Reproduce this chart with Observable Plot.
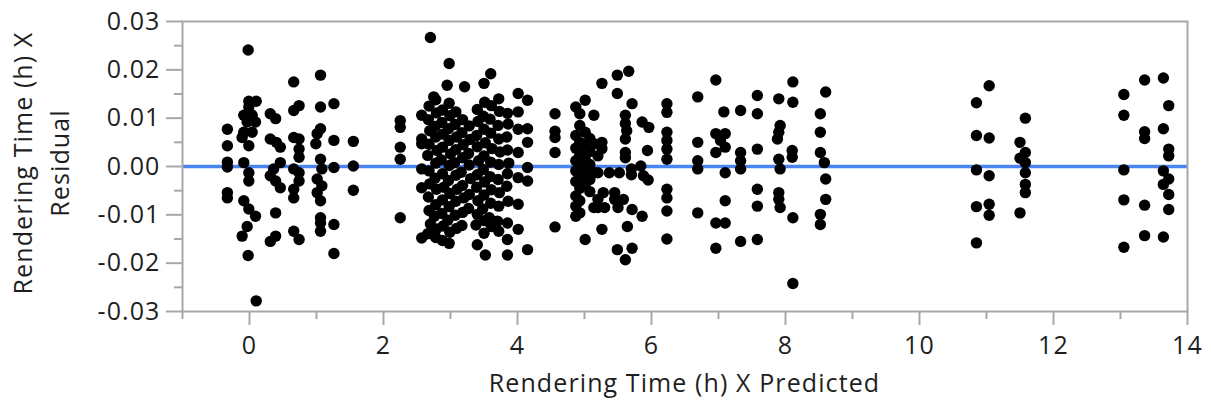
<!DOCTYPE html>
<html>
<head>
<meta charset="utf-8">
<script src="https://cdn.jsdelivr.net/npm/d3@7"></script>
<script src="https://cdn.jsdelivr.net/npm/@observablehq/plot@0.6"></script>
<style>
  body { margin: 0; background: #fff; }
  svg { display: block; }
  svg text { letter-spacing: 1.1px; }
</style>
</head>
<body>
<div id="chart"></div>
<script>
// Residual by predicted value, [predicted, residual] pairs grouped by range of the prediction.
const predictedUnder2 = [
  [-0.33, 0.0077], [-0.33, 0.0043], [-0.33, 0.0009], [-0.33, -0.0001], [-0.33, -0.0054], [-0.33, -0.0065],
  [-0.02, 0.0241], [-0.01, 0.0135], [0.10, 0.0135], [-0.01, 0.0123], [-0.085, 0.0106], [0.04, 0.0106],
  [-0.035, 0.0092], [0.09, 0.0092], [-0.085, 0.0071], [0.04, 0.0071], [-0.11, 0.006], [-0.01, 0.0043],
  [-0.085, 0.0008], [-0.01, -0.0013], [-0.01, -0.003], [-0.085, -0.0071], [-0.01, -0.0088], [0.09, -0.0103],
  [-0.035, -0.0124], [-0.11, -0.0144], [-0.02, -0.0184], [0.10, -0.0278],
  [0.31, 0.0109], [0.39, 0.0099], [0.31, 0.0057], [0.40, 0.005], [0.46, 0.004], [0.46, 0.0008],
  [0.36, -0.0005], [0.31, -0.0019], [0.39, -0.003], [0.46, -0.0044], [0.39, -0.0096], [0.39, -0.0144], [0.31, -0.0155],
  [0.66, 0.0175], [0.74, 0.0126], [0.66, 0.0116], [0.66, 0.006], [0.74, 0.0057], [0.74, 0.0036], [0.74, 0.0019],
  [0.66, -0.0005], [0.74, -0.0013], [0.74, -0.003], [0.66, -0.0047], [0.66, -0.0065], [0.66, -0.0134], [0.74, -0.0151],
  [1.06, 0.0189], [1.06, 0.0123], [1.06, 0.0078], [1.01, 0.0068], [0.99, 0.0047], [1.06, 0.0015], [1.08, -0.0005],
  [1.01, -0.0026], [1.08, -0.004], [1.01, -0.0054], [1.06, -0.0071], [1.06, -0.0106], [1.06, -0.0117], [1.06, -0.0134],
  [1.26, 0.013], [1.26, 0.0054], [1.26, -0.0002], [1.26, -0.012], [1.26, -0.018],
  [1.55, 0.0052], [1.55, 0.0001], [1.55, -0.0049]
];

const predicted2to4 = [
  [2.25, 0.0095], [2.25, 0.0081], [2.25, 0.004], [2.25, 0.0015], [2.25, -0.0106],
  [2.57, 0.0106], [2.57, 0.0057], [2.57, 0.0047], [2.57, -0.0005], [2.57, -0.0044], [2.57, -0.0148],
  [2.70, 0.0267], [2.98, 0.0213], [2.95, 0.0168], [3.21, 0.0165], [2.75, 0.0144],
  [2.68, 0.0125], [2.67, 0.0097], [2.69, 0.0074], [2.68, 0.0046], [2.66, 0.0023], [2.68, -0.0009],
  [2.69, -0.0036], [2.67, -0.0063], [2.68, -0.0091], [2.70, -0.0119], [2.66, -0.0139],
  [2.78, 0.0138], [2.79, 0.0111], [2.77, 0.0083], [2.78, 0.0061], [2.80, 0.0033], [2.78, 0.0007],
  [2.77, -0.0024], [2.79, -0.0047], [2.78, -0.0079], [2.76, -0.0103], [2.79, -0.0129], [2.78, -0.0147],
  [2.88, 0.0117], [2.87, 0.0091], [2.89, 0.0067], [2.88, 0.004], [2.86, 0.0014], [2.88, -0.0015],
  [2.90, -0.0043], [2.88, -0.0069], [2.87, -0.0097], [2.89, -0.0123], [2.88, -0.0153],
  [2.98, 0.0131], [2.99, 0.0105], [2.97, 0.0078], [2.98, 0.0054], [3.00, 0.0026], [2.98, 0.0002],
  [2.97, -0.0029], [2.99, -0.0056], [2.98, -0.0083], [2.96, -0.0111], [2.99, -0.0136], [2.98, -0.0159],
  [3.08, 0.0113], [3.07, 0.0087], [3.09, 0.0061], [3.08, 0.0035], [3.06, 0.0008], [3.08, -0.0018],
  [3.10, -0.0047], [3.08, -0.0072], [3.07, -0.0101], [3.09, -0.0128],
  [3.18, 0.0097], [3.17, 0.007], [3.19, 0.0045], [3.18, 0.0018], [3.16, -0.0012], [3.18, -0.0039],
  [3.20, -0.0065], [3.18, -0.0095], [3.17, -0.0122],
  [3.28, 0.0084], [3.29, 0.0056], [3.27, 0.0027], [3.28, 0.0003], [3.30, -0.0025], [3.28, -0.0058], [3.27, -0.0087],
  [3.40, 0.0118], [3.41, 0.0093], [3.39, 0.0064], [3.40, 0.0041], [3.42, 0.0012], [3.40, -0.0017],
  [3.39, -0.0043], [3.41, -0.0071], [3.40, -0.0099], [3.38, -0.0121], [3.40, -0.0162],
  [3.50, 0.0172], [3.51, 0.0133], [3.49, 0.0104], [3.50, 0.0077], [3.52, 0.0049], [3.50, 0.0022],
  [3.49, -0.0006], [3.51, -0.0032], [3.50, -0.0059], [3.48, -0.0088], [3.51, -0.0112], [3.50, -0.0138], [3.52, -0.0183],
  [3.60, 0.0192], [3.61, 0.0126], [3.59, 0.0098], [3.60, 0.0069], [3.62, 0.0037], [3.60, 0.0009],
  [3.59, -0.0021], [3.61, -0.0048], [3.60, -0.0076], [3.58, -0.0106], [3.61, -0.0124],
  [3.72, 0.014], [3.73, 0.0114], [3.71, 0.0085], [3.72, 0.0057], [3.74, 0.003], [3.72, 0.0004],
  [3.71, -0.0027], [3.73, -0.0054], [3.72, -0.0082], [3.70, -0.0113], [3.72, -0.0134],
  [3.85, 0.011], [3.86, 0.0088], [3.84, 0.0061], [3.85, 0.0034], [3.87, 0.0007], [3.85, -0.0015],
  [3.84, -0.0041], [3.86, -0.0072], [3.85, -0.0117], [3.85, -0.0151], [3.85, -0.0183],
  [4.01, 0.0151], [4.01, 0.0113], [4.01, 0.0077], [4.01, 0.0029], [4.01, -0.0023], [4.01, -0.0078], [4.01, -0.013],
  [4.15, 0.0137], [4.15, 0.0078], [4.15, 0.005], [4.15, -0.0002], [4.15, -0.003], [4.15, -0.0172],
  [4.56, 0.0109], [4.56, 0.0073], [4.56, 0.006], [4.56, 0.0029], [4.56, -0.0125]
];

const predicted4to6 = [
  [4.87, 0.0123], [4.87, 0.0064], [4.87, 0.0038], [4.87, 0.0012], [4.87, -0.0009], [4.87, -0.0031],
  [4.87, -0.0061], [4.87, -0.0082], [4.87, -0.0103],
  [4.93, 0.0109], [4.93, 0.0085], [4.93, 0.005], [4.93, 0.0025], [4.93, -0.0002], [4.93, -0.0021],
  [4.93, -0.0045], [4.93, -0.0071], [4.93, -0.0096],
  [5.01, 0.0137], [5.01, 0.0071], [5.01, 0.0044], [5.01, 0.0016], [5.01, -0.0012], [5.01, -0.0038], [5.01, -0.0151],
  [5.08, 0.0058], [5.08, 0.0031], [5.08, 0.0004], [5.08, -0.0027], [5.08, -0.0052],
  [5.14, 0.0106], [5.14, 0.0047], [5.14, -0.0013], [5.14, -0.0085],
  [5.20, 0.0022], [5.20, -0.0013], [5.20, -0.0068],
  [5.26, 0.0172], [5.49, 0.0189], [5.66, 0.0197], [5.49, 0.0151], [5.71, 0.013], [5.61, 0.0106],
  [5.61, 0.0089], [5.63, 0.0074], [5.61, 0.0057], [5.61, 0.0029], [5.61, 0.0018], [5.86, 0.0092],
  [5.96, 0.0081], [5.94, 0.0033], [5.26, 0.005], [5.26, 0.0037], [5.37, -0.0013], [5.52, -0.0013],
  [5.70, -0.0005], [5.84, 0.0001], [5.70, -0.0017], [5.88, -0.0019], [5.95, -0.0028], [5.28, -0.0054],
  [5.45, -0.0054], [5.20, -0.0085], [5.30, -0.0085], [5.45, -0.0068], [5.50, -0.0085], [5.58, -0.0068],
  [5.71, -0.0089], [5.86, -0.0103], [5.64, -0.0124], [5.26, -0.013], [5.49, -0.0172], [5.71, -0.0169], [5.61, -0.0193]
];

const predicted6to9 = [
  [6.23, 0.013], [6.23, 0.0112], [6.23, 0.0071], [6.23, 0.0054], [6.23, 0.0036], [6.23, 0.0015],
  [6.23, -0.0047], [6.23, -0.0065], [6.23, -0.0092], [6.23, -0.015],
  [6.69, 0.0144], [6.69, 0.005], [6.69, 0.0012], [6.69, -0.0005], [6.69, -0.0096],
  [6.96, 0.0179], [6.96, 0.0068], [6.96, 0.0029], [6.96, -0.0117], [6.96, -0.0169],
  [7.03, 0.0054], [7.10, 0.0068], [7.10, 0.004], [7.08, 0.0113], [7.10, -0.0013], [7.10, -0.0071], [7.10, -0.0117],
  [7.33, 0.0116], [7.33, 0.0029], [7.33, 0.0012], [7.33, -0.0005], [7.33, -0.0155],
  [7.58, 0.0147], [7.58, 0.0109], [7.58, 0.0036], [7.58, -0.0047], [7.58, -0.0082], [7.58, -0.0151],
  [7.90, 0.014], [7.92, 0.0085], [7.90, 0.0071], [7.88, 0.0057], [7.90, 0.0015], [7.92, -0.0005],
  [7.90, -0.0054], [7.90, -0.0068], [7.92, -0.0085],
  [8.11, 0.0175], [8.11, 0.0133], [8.10, 0.0033], [8.10, 0.0019], [8.11, -0.0106], [8.11, -0.0242],
  [8.52, 0.0109], [8.52, 0.0071], [8.52, 0.0029], [8.52, -0.0099], [8.52, -0.012],
  [8.60, 0.0154], [8.58, 0.0008], [8.60, -0.0026], [8.60, -0.0068]
];

const predictedOver10 = [
  [10.85, 0.0132], [10.85, 0.0064], [10.85, -0.0007], [10.85, -0.0083], [10.85, -0.0158],
  [11.04, 0.0167], [11.04, 0.0059], [11.04, -0.0019], [11.04, -0.0078], [11.04, -0.0101],
  [11.50, 0.005], [11.50, 0.0017], [11.50, -0.0096],
  [11.58, 0.01], [11.58, 0.0029], [11.58, 0.0008], [11.58, -0.0013], [11.58, -0.0037], [11.58, -0.0054],
  [13.05, 0.0149], [13.05, 0.0106], [13.05, -0.0007], [13.05, -0.0069], [13.05, -0.0167],
  [13.36, 0.0179], [13.36, 0.0072], [13.36, 0.0058], [13.36, -0.008], [13.36, -0.0143],
  [13.64, 0.0183], [13.64, 0.0078], [13.64, -0.0009], [13.64, -0.0037], [13.64, -0.0146],
  [13.72, 0.0126], [13.72, 0.0036], [13.72, 0.0022], [13.72, -0.0026], [13.72, -0.0058], [13.72, -0.0089]
];

// Axis ticks
const xTicks = [0, 2, 4, 6, 8, 10, 12, 14];
const xMinorTicks = [-1, 1, 3, 5, 7, 9, 11, 13];
const yTicks = [-0.03, -0.02, -0.01, 0, 0.01, 0.02, 0.03];
const yMinorTicks = [-0.025, -0.015, -0.005, 0.005, 0.015, 0.025];

const xTitle = "Rendering Time (h) X Predicted";
const yTitle = ["Rendering Time (h) X", "Residual"];

const points = [...predictedUnder2, ...predicted2to4, ...predicted4to6, ...predicted6to9, ...predictedOver10]
  .map(([predicted, residual]) => ({predicted, residual}));

const font = "'Open Sans', 'Noto Sans', sans-serif";
const fontSize = 25;
const axisGray = "#a8a8a8";
const textColor = "#1e1e1e";

const chart = Plot.plot({
  width: 1211,
  height: 406,
  marginLeft: 182,
  marginRight: 24,
  marginTop: 21,
  marginBottom: 95,
  style: {fontFamily: font, fontSize: `${fontSize}px`, color: textColor, background: "#fff"},
  x: {domain: [-1, 14]},
  y: {domain: [-0.03, 0.03]},
  marks: [
    Plot.ruleY([0], {stroke: "#4a84ee", strokeWidth: 3.5}),
    Plot.dot(points, {x: "predicted", y: "residual", r: 5.7, fill: "#000", stroke: null}),
    Plot.frame({stroke: axisGray, strokeWidth: 2}),
    Plot.axisY(yTicks, {tickSize: 16, tickPadding: 6, tickFormat: (d) => d.toFixed(2), stroke: axisGray, strokeWidth: 2, fill: textColor, fontSize, label: null}),
    Plot.axisY(yMinorTicks, {tickSize: 8, text: null, stroke: axisGray, strokeWidth: 2, label: null}),
    Plot.axisX(xTicks, {tickSize: 14, tickPadding: 11, tickFormat: (d) => String(d), stroke: axisGray, strokeWidth: 2, fill: textColor, fontSize, label: null}),
    Plot.axisX(xMinorTicks, {tickSize: 8, text: null, stroke: axisGray, strokeWidth: 2, label: null})
  ]
});

// Axis titles
const svg = d3.select(chart);
const xs = chart.scale("x");
const ys = chart.scale("y");
const xMid = (xs.range[0] + xs.range[1]) / 2;
const yMid = (ys.range[0] + ys.range[1]) / 2;

svg.append("text")
  .attr("x", xMid)
  .attr("y", 392)
  .attr("text-anchor", "middle")
  .attr("fill", textColor)
  .style("font", `${fontSize}px ${font}`)
  .text(xTitle);

yTitle.forEach((line, i) => {
  svg.append("text")
    .attr("transform", `translate(${25 + i * 37},${yMid - 3}) rotate(-90)`)
    .attr("text-anchor", "middle")
    .attr("dominant-baseline", "middle")
    .attr("fill", textColor)
    .style("font", `${fontSize}px ${font}`)
    .text(line);
});

document.getElementById("chart").append(chart);
</script>
</body>
</html>
